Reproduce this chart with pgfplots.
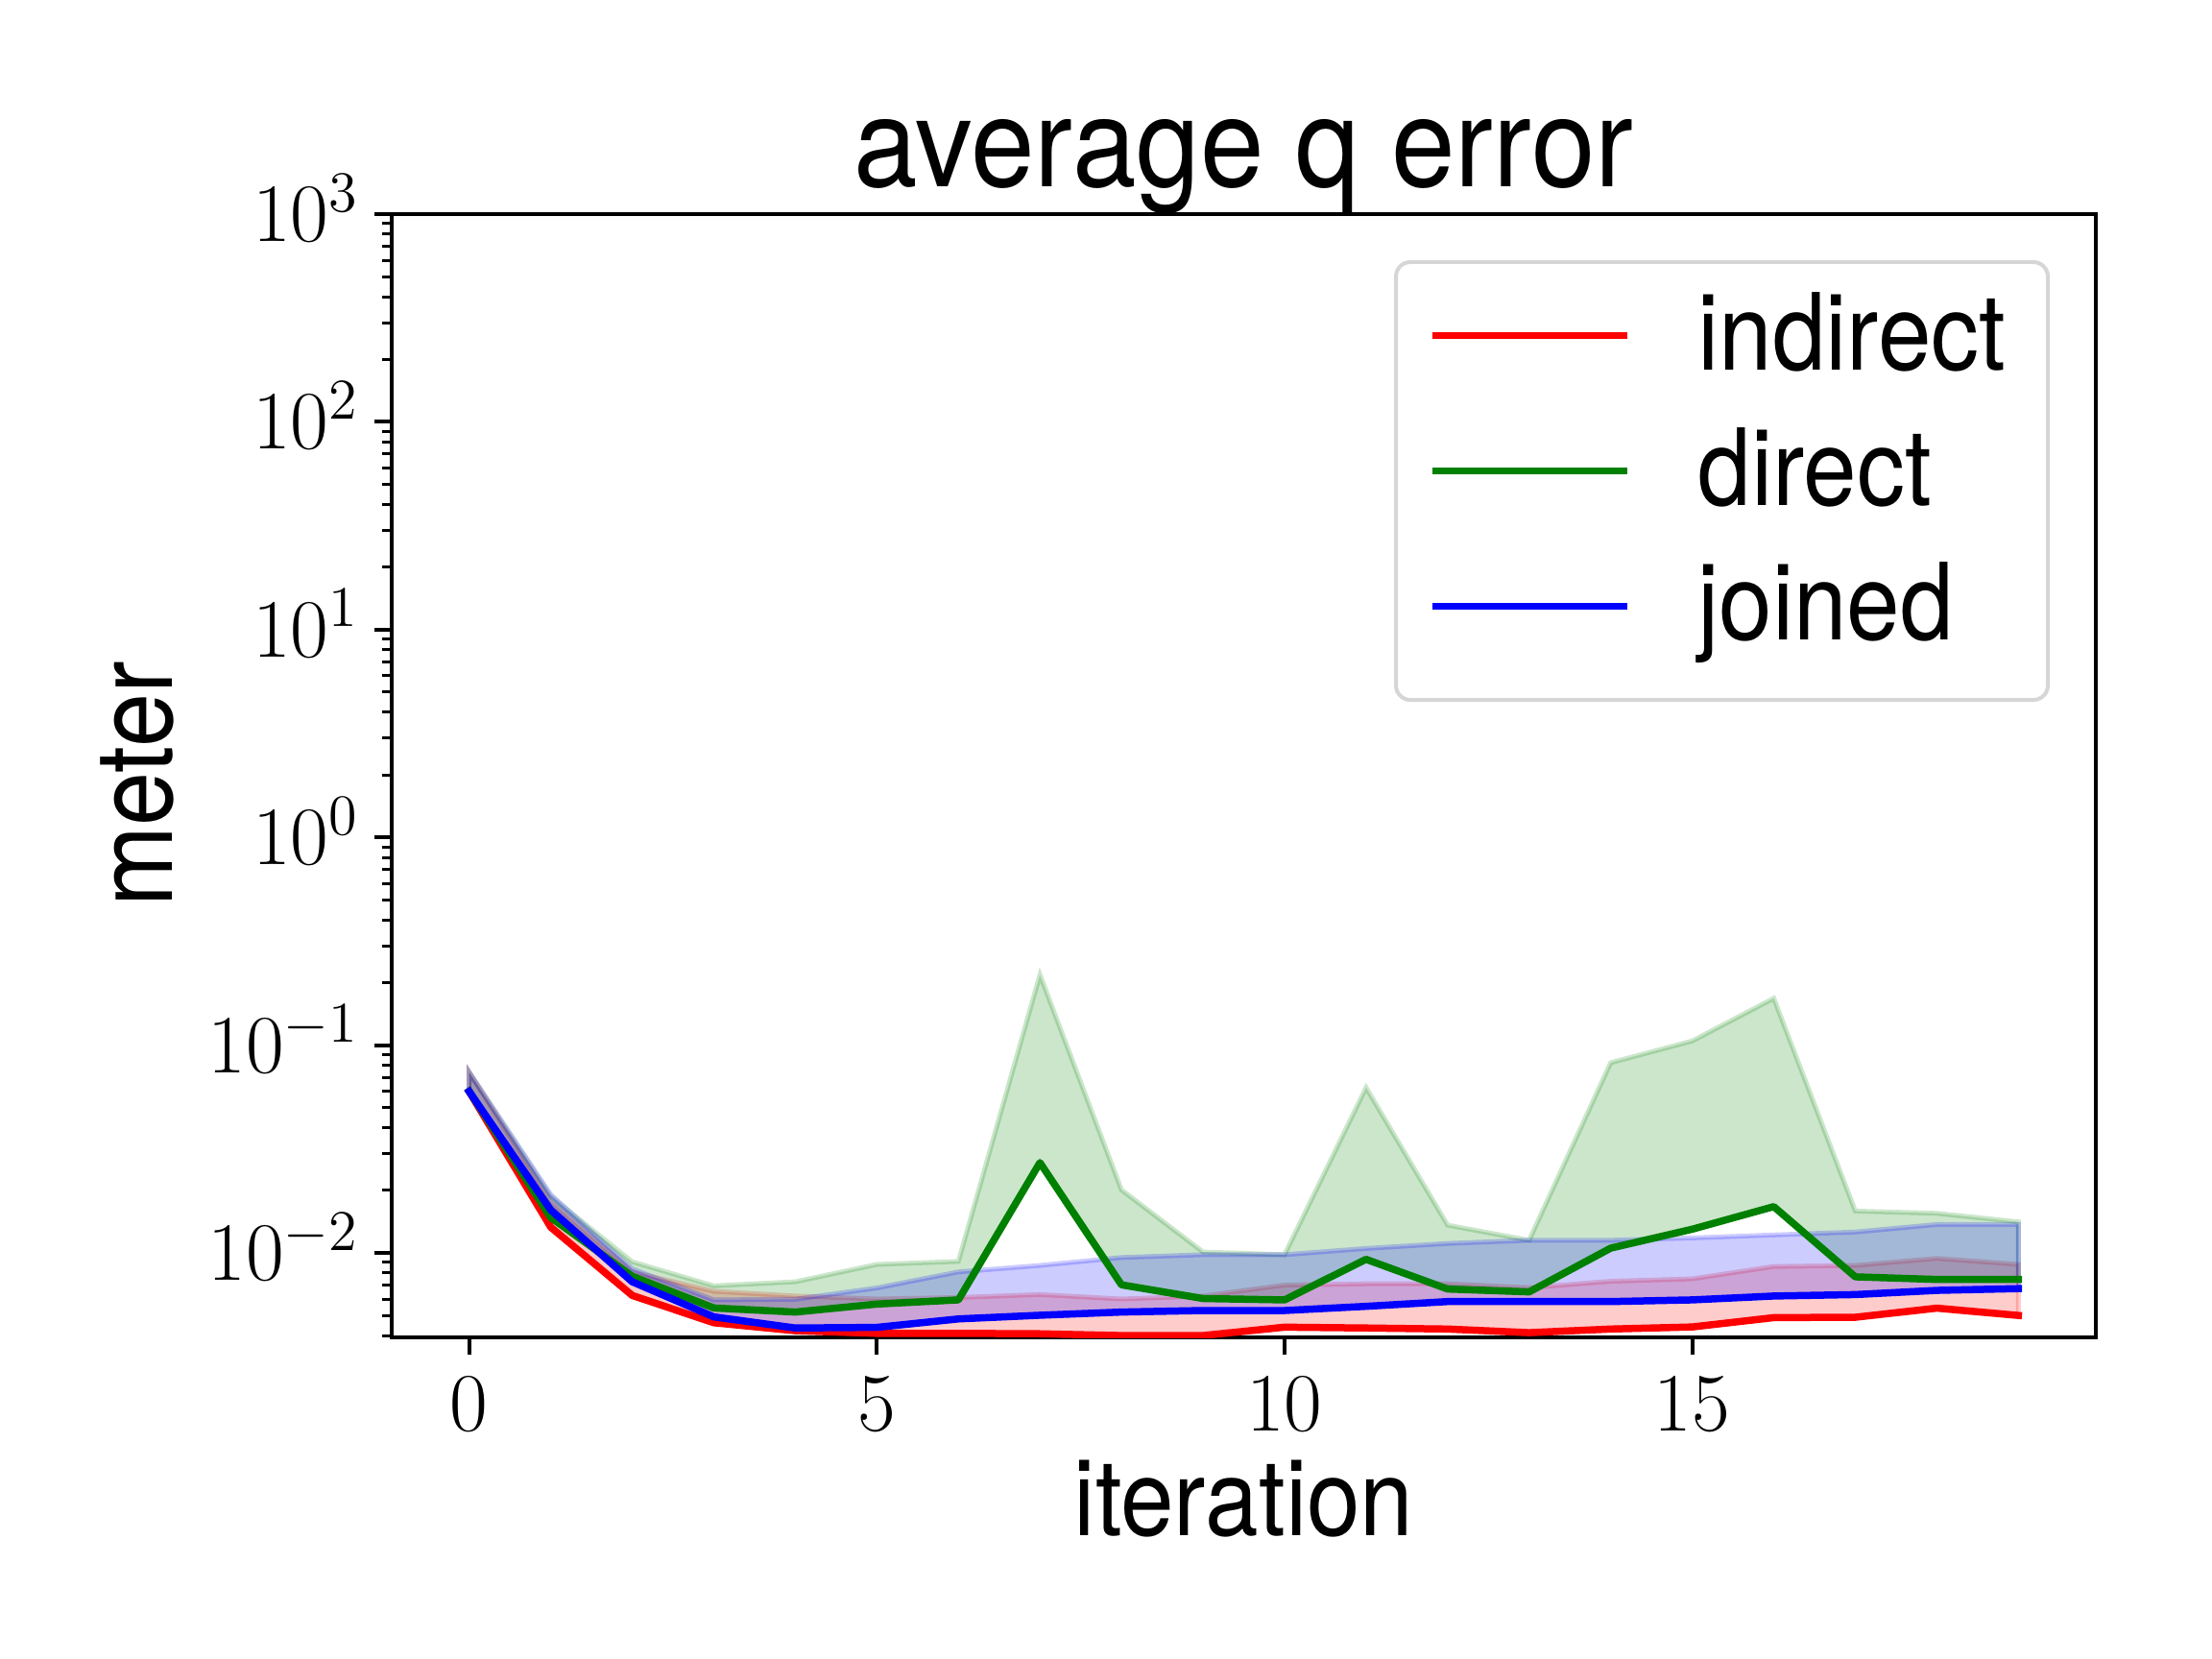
\documentclass[border=0pt]{standalone}
\usepackage{fontspec}
\usepackage{pgfplots}
\pgfplotsset{compat=1.18}
\usepackage{pgfplotstable}
\newfontfamily\hv[FakeStretch=0.9]{TeX Gyre Heros}
\newfontfamily\hvt[FakeStretch=0.92]{TeX Gyre Heros}
\definecolor{mred}{RGB}{255,0,0}
\definecolor{mgreen}{RGB}{0,128,0}
\definecolor{mblue}{RGB}{0,0,255}
\definecolor{legframe}{RGB}{214,214,214}

\pgfplotstableread{
x  rm      ru      gm      gu      bm      bu
0  0.0598  0.074   0.0600  0.074   0.0598  0.074
1  0.0133  0.0176  0.0148  0.0187  0.0161  0.0191
2  0.00624 0.0081  0.00772 0.00906 0.00726 0.00837
3  0.00461 0.00653 0.00543 0.00694 0.00492 0.00594
4  0.00422 0.0062  0.00519 0.00726 0.00435 0.00598
5  0.0041  0.0060  0.00567 0.0088  0.00438 0.00678
6  0.0041  0.0061  0.00594 0.0091  0.00481 0.0081
7  0.00408 0.0063  0.0272  0.218   0.00501 0.0087
8  0.0040  0.0060  0.00702 0.0201  0.00519 0.0095
9  0.0040  0.0062  0.00603 0.0101  0.00528 0.0098
10 0.00439 0.0070  0.00594 0.0098  0.00528 0.0098
11 0.00435 0.0071  0.00931 0.0624  0.00553 0.0105
12 0.0043  0.0071  0.0067  0.0136  0.00583 0.0111
13 0.00413 0.0068  0.00649 0.0115  0.00583 0.0115
14 0.0043  0.0073  0.01054 0.0823  0.00583 0.0115
15 0.0044  0.0075  0.0130  0.1047  0.00594 0.0118
16 0.00488 0.0086  0.0167  0.168   0.0062  0.0122
17 0.0049  0.0087  0.00767 0.0159  0.0063  0.0126
18 0.00542 0.0094  0.00745 0.0155  0.0066  0.0137
19 0.0050  0.0088  0.00745 0.0141  0.00673 0.0137
}\data

\begin{document}
\begin{tikzpicture}
\path[use as bounding box] (0,0) rectangle (460.8pt,345.6pt);
\begin{axis}[
  at={(81.6pt,67pt)}, anchor=south west,
  scale only axis, width=355pt, height=234pt,
  ymode=log,
  xmin=-0.95, xmax=19.95, ymin=0.003921, ymax=1000,
  xtick={0,5,10,15},
  ytick={0.01,0.1,1,10,100,1000},
  minor ytick={0.004,0.005,0.006,0.007,0.008,0.009,
    0.02,0.03,0.04,0.05,0.06,0.07,0.08,0.09,
    0.2,0.3,0.4,0.5,0.6,0.7,0.8,0.9,
    2,3,4,5,6,7,8,9,
    20,30,40,50,60,70,80,90,
    200,300,400,500,600,700,800,900},
  xtick pos=left, ytick pos=left, tick align=outside,
  major tick length=3.5pt, minor tick length=2pt,
  tick style={black, line width=0.8pt},
  minor tick style={black, line width=0.6pt},
  axis line style={black, line width=0.8pt},
  tick label style={font=\fontsize{17.28}{20}\selectfont, inner sep=0pt},
  xticklabel style={anchor=base, yshift=-16.0pt},
  yticklabel style={anchor=base east, xshift=-3.0pt, yshift=-5.7pt},
  title={average q error},
  every axis title/.style={at={(axis description cs:0.5,1)}, anchor=base, yshift=5.6pt, inner sep=0pt, font=\hvt\fontsize{26}{31}\selectfont},
  xlabel={iteration},
  ylabel={meter},
  every axis x label/.style={at={(axis description cs:0.5,0)}, anchor=base, yshift=-41.3pt, inner sep=0pt, font=\hv\fontsize{22.2}{26}\selectfont},
  every axis y label/.style={at={(axis description cs:0,0.5)}, xshift=-45.7pt, yshift=-1.8pt, rotate=90, anchor=base, inner sep=0pt, font=\hv\fontsize{22.4}{26}\selectfont},
  legend cell align=left,
  legend style={
    at={(axis description cs:1,1)}, anchor=north east, xshift=-10pt, yshift=-10pt,
    draw=legframe, line width=0.8pt, rounded corners=3pt, fill=white,
    inner xsep=7.65pt, inner ysep=7.4pt, outer sep=0pt,
    row sep=8.2pt, column sep=0pt,
    nodes={inner sep=0pt, text height=15pt, text depth=5pt, text width=65.25pt, align=left, anchor=base west, font=\hv\fontsize{22.2}{26}\selectfont},
  },
  legend image code/.code={\draw[#1, line width=1.5pt, line cap=rect] (0.75pt,7.1pt) -- (39.8pt,7.1pt); \path[draw=none, fill=none] (0pt,0pt) -- (55.25pt,0pt);},
]
% bands (mean to upper), drawn first
\addplot[fill=mred, fill opacity=0.2, draw=mred, draw opacity=0.2, line width=1pt, forget plot] coordinates {
(0,0.074) (1,0.0176) (2,0.0081) (3,0.00653) (4,0.0062) (5,0.0060) (6,0.0061) (7,0.0063) (8,0.0060) (9,0.0062)
(10,0.0070) (11,0.0071) (12,0.0071) (13,0.0068) (14,0.0073) (15,0.0075) (16,0.0086) (17,0.0087) (18,0.0094) (19,0.0088)
(19,0.0050) (18,0.00542) (17,0.0049) (16,0.00488) (15,0.0044) (14,0.0043) (13,0.00413) (12,0.0043) (11,0.00435) (10,0.00439)
(9,0.0040) (8,0.0040) (7,0.00408) (6,0.0041) (5,0.0041) (4,0.00422) (3,0.00461) (2,0.00624) (1,0.0133) (0,0.0598)
} -- cycle;
\addplot[fill=mgreen, fill opacity=0.2, draw=mgreen, draw opacity=0.2, line width=1pt, forget plot] coordinates {
(0,0.074) (1,0.0187) (2,0.00906) (3,0.00694) (4,0.00726) (5,0.0088) (6,0.0091) (7,0.218) (8,0.0201) (9,0.0101)
(10,0.0098) (11,0.0624) (12,0.0136) (13,0.0115) (14,0.0823) (15,0.1047) (16,0.168) (17,0.0159) (18,0.0155) (19,0.0141)
(19,0.00745) (18,0.00745) (17,0.00767) (16,0.0167) (15,0.0130) (14,0.01054) (13,0.00649) (12,0.0067) (11,0.00931) (10,0.00594)
(9,0.00603) (8,0.00702) (7,0.0272) (6,0.00594) (5,0.00567) (4,0.00519) (3,0.00543) (2,0.00772) (1,0.0148) (0,0.0600)
} -- cycle;
\addplot[fill=mblue, fill opacity=0.2, draw=mblue, draw opacity=0.2, line width=1pt, forget plot] coordinates {
(0,0.074) (1,0.0191) (2,0.00837) (3,0.00594) (4,0.00598) (5,0.00678) (6,0.0081) (7,0.0087) (8,0.0095) (9,0.0098)
(10,0.0098) (11,0.0105) (12,0.0111) (13,0.0115) (14,0.0115) (15,0.0118) (16,0.0122) (17,0.0126) (18,0.0137) (19,0.0137)
(19,0.00673) (18,0.0066) (17,0.0063) (16,0.0062) (15,0.00594) (14,0.00583) (13,0.00583) (12,0.00583) (11,0.00553) (10,0.00528)
(9,0.00528) (8,0.00519) (7,0.00501) (6,0.00481) (5,0.00438) (4,0.00435) (3,0.00492) (2,0.00726) (1,0.0161) (0,0.0598)
} -- cycle;
% mean lines
\addplot[mred, line width=1.5pt, line join=round, line cap=rect] table[x=x,y=rm]{\data};
\addlegendentry{indirect}
\addplot[mgreen, line width=1.5pt, line join=round, line cap=rect] table[x=x,y=gm]{\data};
\addlegendentry{direct}
\addplot[mblue, line width=1.5pt, line join=round, line cap=rect] table[x=x,y=bm]{\data};
\addlegendentry{joined}
\end{axis}
\end{tikzpicture}
\end{document}
